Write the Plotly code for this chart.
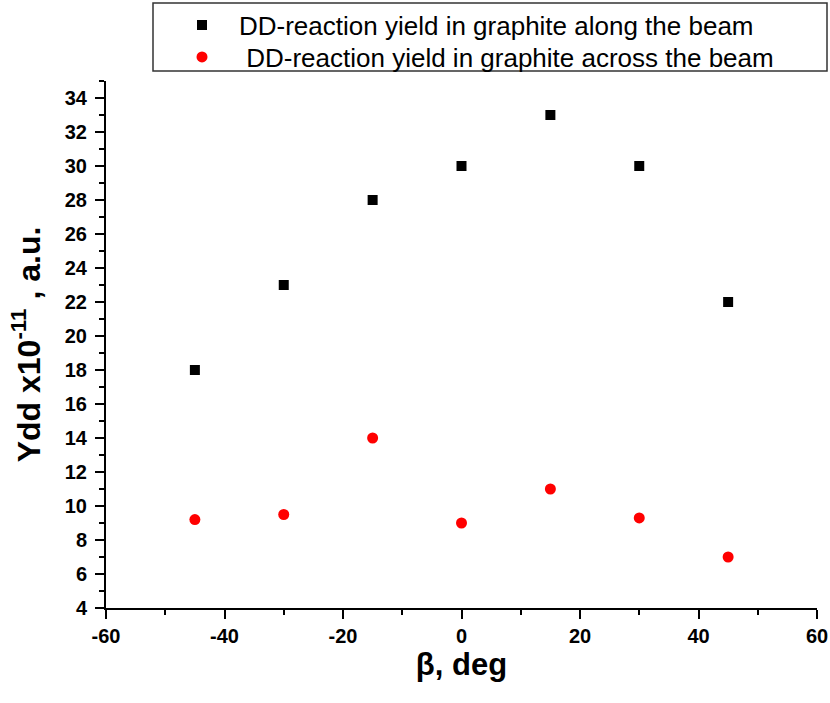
import plotly.graph_objects as go

angles = [-45, -30, -15, 0, 15, 30, 45]
along_beam = [18, 23, 28, 30, 33, 30, 22]
across_beam = [9.2, 9.5, 14, 9, 11, 9.3, 7]
name_along = "DD-reaction yield in graphite along the beam"
name_across = " DD-reaction yield in graphite across the beam"
x_ticks = [-60, -40, -20, 0, 20, 40, 60]
y_ticks = list(range(4, 35, 2))

FONT = "Liberation Sans, Arial"
PAPER_TOP = 0
PAPER_BOTTOM = 608
PAPER_H = PAPER_BOTTOM - PAPER_TOP


def py(pix):
    return (PAPER_BOTTOM - pix) / PAPER_H


fig = go.Figure()
fig.add_trace(go.Scatter(x=angles, y=along_beam, mode="markers", name=name_along, legend="legend",
                         marker=dict(symbol="square", size=10, color="black")))
fig.add_trace(go.Scatter(x=angles, y=across_beam, mode="markers", name=name_across, legend="legend2",
                         marker=dict(symbol="circle", size=11, color="#ff0000")))

axis_common = dict(showline=True, linecolor="black", linewidth=2, mirror=False,
                   ticks="outside", ticklen=9, tickwidth=2, tickcolor="black",
                   showgrid=False, zeroline=False,
                   tickfont=dict(family=FONT, size=20, color="black"))

fig.update_xaxes(range=[-60, 60], tickmode="array", tickvals=x_ticks,
                 ticktext=[f"<b>{v}</b>" for v in x_ticks], automargin="height",
                 minor=dict(ticks="outside", ticklen=5, tickwidth=2, tickcolor="black", dtick=10, tick0=0),
                 title=dict(text="<b>β, deg</b>", font=dict(family=FONT, size=31, color="black"), standoff=2),
                 **axis_common)
fig.update_yaxes(range=[4, 35], domain=[0, py(81)], tickmode="array", tickvals=y_ticks,
                 ticktext=[f"<b>{v}</b>" for v in y_ticks], automargin=False,
                 minor=dict(ticks="outside", ticklen=5, tickwidth=2, tickcolor="black", dtick=1, tick0=0),
                 ticklabelstandoff=4,
                 title=dict(text="<b>Ydd x10<sup>-11</sup> , a.u.</b>", font=dict(family=FONT, size=32, color="black")),
                 **axis_common)

fig.add_shape(type="rect", xref="paper", yref="paper",
              x0=(153-106)/711, x1=(827-106)/711, y0=py(71), y1=py(3),
              line=dict(color="#333333", width=1.5), fillcolor="rgba(0,0,0,0)")

leg_common = dict(xanchor="left", yanchor="middle",
                  bgcolor="rgba(0,0,0,0)", borderwidth=0,
                  font=dict(family=FONT, size=26, color="black"), itemwidth=64)

fig.update_layout(
    width=830, height=703,
    margin=dict(l=106, r=13, t=PAPER_TOP, b=703 - PAPER_BOTTOM),
    paper_bgcolor="white", plot_bgcolor="white",
    showlegend=True,
    legend=dict(x=(165-106)/711, y=py(25), **leg_common),
    legend2=dict(x=(165-106)/711, y=py(57), **leg_common),
)

fig.write_html("out.html")
